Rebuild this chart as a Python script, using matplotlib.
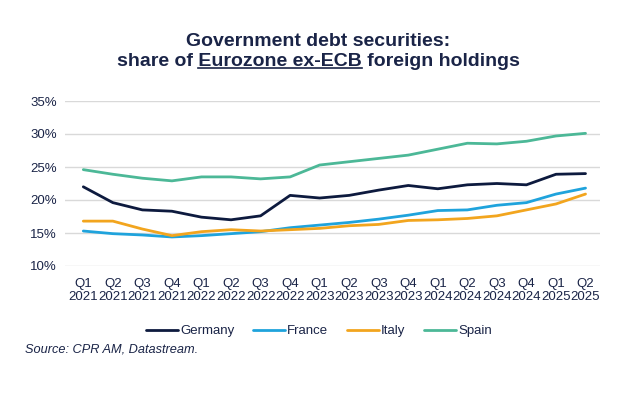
import matplotlib
matplotlib.use("Agg")
import matplotlib.pyplot as plt
from matplotlib.lines import Line2D

plt.rcParams['font.family'] = ['Liberation Sans', 'DejaVu Sans']

quarters = ["Q1", "Q2", "Q3", "Q4"] * 4 + ["Q1", "Q2"]
years = ["2021"] * 4 + ["2022"] * 4 + ["2023"] * 4 + ["2024"] * 4 + ["2025"] * 2
tick_labels = [f"{q}\n{y}" for q, y in zip(quarters, years)]

germany = [22.0, 19.6, 18.5, 18.3, 17.4, 17.0, 17.6, 20.7, 20.3, 20.7, 21.5, 22.2,
           21.7, 22.3, 22.5, 22.3, 23.9, 24.0]
france = [15.3, 14.9, 14.7, 14.4, 14.6, 14.9, 15.2, 15.8, 16.2, 16.6, 17.1, 17.7,
          18.4, 18.5, 19.2, 19.6, 20.9, 21.8]
italy = [16.8, 16.8, 15.6, 14.6, 15.2, 15.5, 15.3, 15.5, 15.7, 16.1, 16.3, 16.9,
         17.0, 17.2, 17.6, 18.5, 19.4, 20.9]
spain = [24.6, 23.9, 23.3, 22.9, 23.5, 23.5, 23.2, 23.5, 25.3, 25.8, 26.3, 26.8,
         27.7, 28.6, 28.5, 28.9, 29.7, 30.1]

series = [("Germany", germany, "#0d1a3e"), ("France", france, "#1fa3dc"),
          ("Italy", italy, "#f2a51e"), ("Spain", spain, "#4cb897")]
navy = "#1a2447"

fig = plt.figure(figsize=(6.34, 3.93), dpi=100)
W, H = 634, 393
ax = fig.add_axes([65 / W, (H - 266) / H, (600 - 65) / W, (266 - 101) / H])
x = list(range(len(tick_labels)))
for name, vals, col in series:
    ax.plot(x, vals, color=col, lw=2.0, label=name, solid_capstyle='round')

ax.set_ylim(10, 35)
ax.set_xlim(-0.62, 17.49)
ax.set_yticks([10, 15, 20, 25, 30, 35])
ax.set_yticklabels([f"{v}%" for v in [10, 15, 20, 25, 30, 35]])
ax.set_xticks(x)
ax.set_xticklabels(tick_labels, linespacing=1.12)
ax.tick_params(axis='both', length=0, labelsize=9.5, colors=navy)
ax.tick_params(axis='x', pad=8.5)
ax.tick_params(axis='y', pad=6)
ax.grid(axis='y', color='#d9d9d9', lw=1)
ax.set_axisbelow(True)
for s in ax.spines.values():
    s.set_visible(False)

leg = fig.legend(loc='center', bbox_to_anchor=(319 / W, 1 - 331 / H), ncol=4,
                 frameon=False, fontsize=9.5, handlelength=2.4, handletextpad=0.15,
                 columnspacing=1.45)
for t in leg.get_texts():
    t.set_color(navy)

fig.text(25 / W, 1 - 350 / H, "Source: CPR AM, Datastream.", style='italic',
         fontsize=9.2, color=navy, va='center', ha='left')

# Title
fig.text(0.5 + 1.5 / W, 1 - 45.7 / H, "Government debt securities:", ha='center',
         va='baseline', fontsize=14, fontweight='bold', color=navy)
line2 = "share of Eurozone ex-ECB foreign holdings"
t2 = fig.text(0.5 + 1.5 / W, 1 - 65.7 / H, line2, ha='center', va='baseline',
              fontsize=14, fontweight='bold', color=navy)
fig.canvas.draw()
r = fig.canvas.get_renderer()
bb = t2.get_window_extent(r)
prop = t2.get_fontproperties()
def width(s):
    w, h, d = r.get_text_width_height_descent(s, prop, ismath=False)
    return w
w_pre = width("share of ")
w_mid = width("share of Eurozone ex-ECB")
x0 = bb.x0 + w_pre
x1 = bb.x0 + w_mid
yline = (1 - 68 / H) * fig.bbox.height
fig.add_artist(Line2D([x0 / fig.bbox.width, x1 / fig.bbox.width],
                      [yline / fig.bbox.height] * 2, color=navy, lw=1.2,
                      transform=fig.transFigure))

fig.savefig("out.png", dpi=100, facecolor='white')
